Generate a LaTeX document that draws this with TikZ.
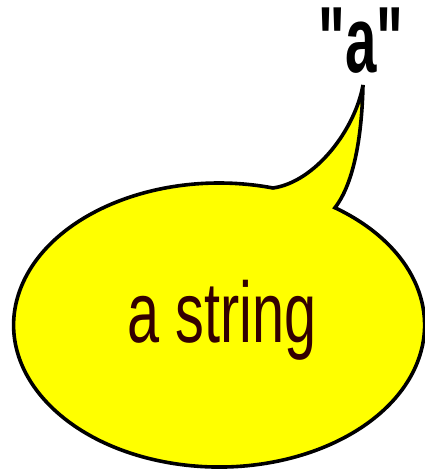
\documentclass[tikz,border=0pt]{standalone}
\usepackage{fontspec}
\setmainfont{Liberation Sans}
\newfontfamily\qfont{Liberation Sans}
\definecolor{bubble}{HTML}{FFFF00}
\definecolor{ink}{HTML}{330000}
\tikzset{
  bubbleshape/.style={draw=black, fill=bubble, line width=3.6pt, line join=miter},
  bigtext/.style={inner sep=0pt, text=ink, font=\fontsize{86}{86}\selectfont},
  toptext/.style={inner sep=0pt, text=black, font=\qfont\bfseries\fontsize{94}{94}\selectfont}
}
\begin{document}
\begin{tikzpicture}[x=1pt,y=1pt]
\useasboundingbox (0,0) rectangle (424,472);
\coordinate (A) at (273,284);
\coordinate (B) at (335,264);
\coordinate (T) at (363,387);
\draw[bubbleshape] (A) arc[start angle=74.8, end angle=415.7, x radius=205.5, y radius=142]
  .. controls (355,290) and (362,340) .. (T)
  .. controls (355,342) and (315,290) .. (A) -- cycle;
\node[bigtext, anchor=base] (s) at (222,129) {\scalebox{0.67}[1]{a string}};
\node[toptext, anchor=base] (q) at (361,399) {\scalebox{0.6}[1]{\symbol{34}a\symbol{34}}};
\end{tikzpicture}
\end{document}
